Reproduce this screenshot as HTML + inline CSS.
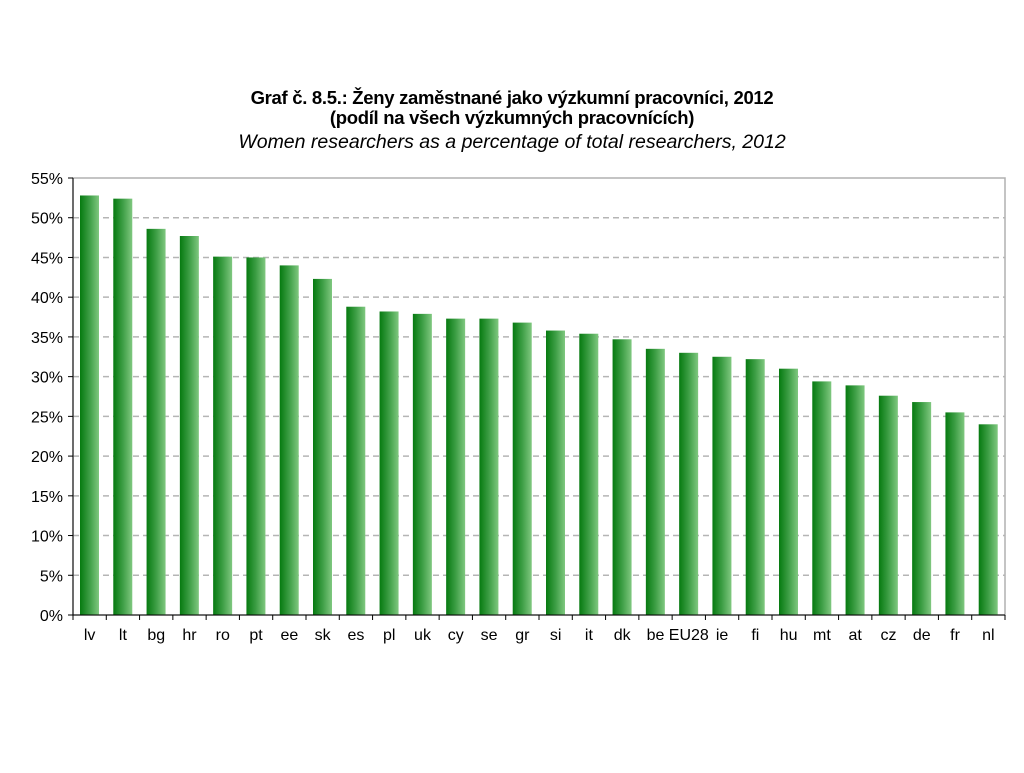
<!DOCTYPE html>
<html><head><meta charset="utf-8"><style>
body{margin:0;background:#fff;font-family:"Liberation Sans",sans-serif}
svg text{font-family:"Liberation Sans",sans-serif}
</style></head><body>
<svg id="c" width="1024" height="768">
<defs><linearGradient id="g" x1="0" x2="1" y1="0" y2="0"><stop offset="0" stop-color="#067a10"/><stop offset="0.5" stop-color="#3d9e45"/><stop offset="1" stop-color="#80c880"/></linearGradient></defs>
<text x="512" y="104" text-anchor="middle" font-size="18.5" font-weight="bold" letter-spacing="-0.3">Graf č. 8.5.: Ženy zaměstnané jako výzkumní pracovníci, 2012</text>
<text x="512" y="124" text-anchor="middle" font-size="18.5" font-weight="bold" letter-spacing="-0.3">(podíl na všech výzkumných pracovnících)</text>
<text x="512" y="148" text-anchor="middle" font-size="19.5" font-style="italic">Women researchers as a percentage of total researchers, 2012</text>
<g id="plot"></g>
</svg>
<script>
const categories=["lv","lt","bg","hr","ro","pt","ee","sk","es","pl","uk","cy","se","gr","si","it","dk","be","EU28","ie","fi","hu","mt","at","cz","de","fr","nl"];
const values=[52.8,52.4,48.6,47.7,45.1,45.0,44.0,42.3,38.8,38.2,37.9,37.3,37.3,36.8,35.8,35.4,34.7,33.5,33.0,32.5,32.2,31.0,29.4,28.9,27.6,26.8,25.5,24.0];
const ticks=[0,5,10,15,20,25,30,35,40,45,50,55];
const L=73,R=1005,T=178,B=615,MAX=55;
const y=v=>B-(v/MAX)*(B-T);
const bw=(R-L)/categories.length;
const x=i=>L+i*bw;
const g=document.getElementById('plot');
const NS="http://www.w3.org/2000/svg";
function mk(t,a){const e=document.createElementNS(NS,t);for(const k in a)e.setAttribute(k,a[k]);g.appendChild(e);return e;}
const fr=mk('rect',{x:L,y:T,width:R-L,height:B-T,fill:'none',stroke:'#b0b0b0','stroke-width':1.5});


ticks.forEach(t=>{
  if(t>0&&t<MAX){const l=mk('line',{x1:L,x2:R,y1:y(t),y2:y(t),stroke:'#b5b5b5','stroke-width':1.5,'stroke-dasharray':'6,4'});
  
  }
  const tl=mk('text',{x:L-10,y:y(t)+6,'text-anchor':'end','font-size':16});tl.textContent=t+'%';
  
  
  mk('line',{x1:L-5,x2:L,y1:y(t),y2:y(t),stroke:'#000'});
});
categories.forEach((c,i)=>{
  const r=mk('rect',{x:x(i)+7,y:y(values[i]),width:19,height:B-y(values[i]),fill:'url(#g)'});
  
  
  const t=mk('text',{x:x(i)+bw/2,y:B+25,'text-anchor':'middle','font-size':16});t.textContent=c;
  
  
  mk('line',{x1:x(i),x2:x(i),y1:B,y2:B+5,stroke:'#000'});
});
mk('line',{x1:L,x2:L,y1:T,y2:B,stroke:'#000'});
mk('line',{x1:L,x2:R,y1:B,y2:B,stroke:'#000'});
mk('line',{x1:R,x2:R,y1:B,y2:B+5,stroke:'#000'});
</script>
</body></html>
